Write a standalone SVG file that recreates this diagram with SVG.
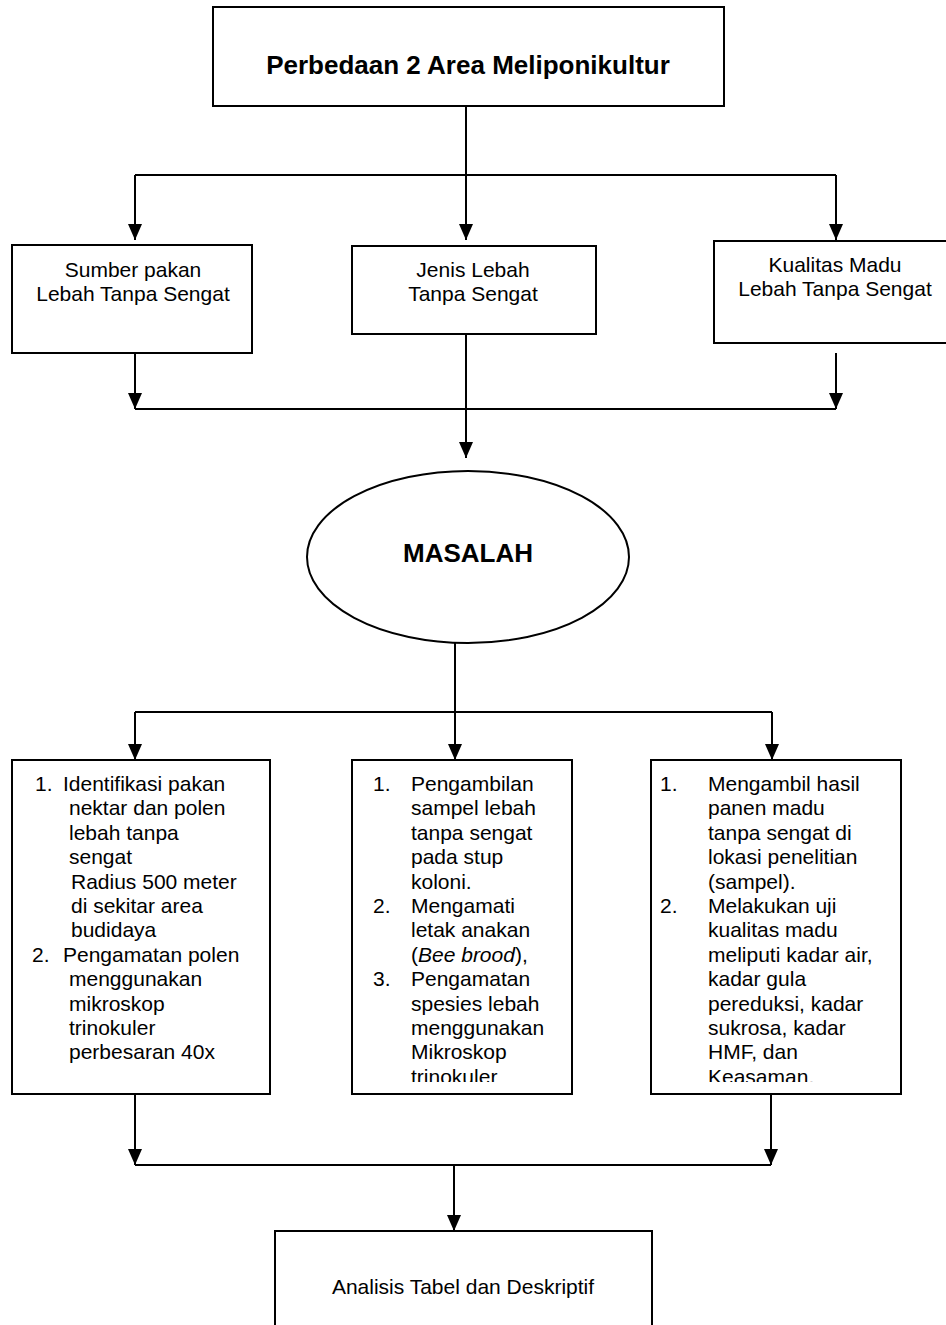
<svg xmlns="http://www.w3.org/2000/svg" width="946" height="1325" viewBox="0 0 946 1325">
<style>
.box{fill:#fff;stroke:#000;stroke-width:2}
.ln{fill:none;stroke:#000;stroke-width:2}
.t{font-family:"Liberation Sans",Arial,sans-serif;font-size:21px;fill:#000}
.c{text-anchor:middle}
.b{font-weight:bold;font-size:26px}
</style>
<defs>
<marker id="ah" markerUnits="userSpaceOnUse" markerWidth="16" markerHeight="14" refX="16" refY="7" orient="auto">
<path d="M0,0 L16,7 L0,14 z" fill="#000"/>
</marker>
<clipPath id="clipM"><rect x="352" y="760" width="220" height="322"/></clipPath>
<clipPath id="clipR"><rect x="651" y="760" width="250" height="322"/></clipPath>
</defs>

<g id="connectors">
<line class="ln" x1="466" y1="106" x2="466" y2="240" marker-end="url(#ah)"/>
<line class="ln" x1="135" y1="175" x2="836" y2="175"/>
<line class="ln" x1="135" y1="175" x2="135" y2="240" marker-end="url(#ah)"/>
<line class="ln" x1="836" y1="175" x2="836" y2="240" marker-end="url(#ah)"/>
<line class="ln" x1="135" y1="353" x2="135" y2="409" marker-end="url(#ah)"/>
<line class="ln" x1="836" y1="353" x2="836" y2="409" marker-end="url(#ah)"/>
<line class="ln" x1="135" y1="409" x2="836" y2="409"/>
<line class="ln" x1="466" y1="334" x2="466" y2="458" marker-end="url(#ah)"/>
<line class="ln" x1="455" y1="643" x2="455" y2="760" marker-end="url(#ah)"/>
<line class="ln" x1="135" y1="712" x2="772" y2="712"/>
<line class="ln" x1="135" y1="712" x2="135" y2="760" marker-end="url(#ah)"/>
<line class="ln" x1="772" y1="712" x2="772" y2="760" marker-end="url(#ah)"/>
<line class="ln" x1="135" y1="1094" x2="135" y2="1165" marker-end="url(#ah)"/>
<line class="ln" x1="771" y1="1094" x2="771" y2="1165" marker-end="url(#ah)"/>
<line class="ln" x1="135" y1="1165" x2="771" y2="1165"/>
<line class="ln" x1="454" y1="1165" x2="454" y2="1231" marker-end="url(#ah)"/>
</g>

<g id="title">
<rect class="box" x="213" y="7" width="511" height="99"/>
<text class="t c b" x="468" y="74">Perbedaan 2 Area Meliponikultur</text>
</g>

<g id="sumber">
<rect class="box" x="12" y="245" width="240" height="108"/>
<text class="t c" x="133" y="277">Sumber pakan</text>
<text class="t c" x="133" y="301">Lebah Tanpa Sengat</text>
</g>

<g id="jenis">
<rect class="box" x="352" y="246" width="244" height="88"/>
<text class="t c" x="473" y="277">Jenis Lebah</text>
<text class="t c" x="473" y="301">Tanpa Sengat</text>
</g>

<g id="kualitas">
<rect class="box" x="714" y="241" width="240" height="102"/>
<text class="t c" x="835" y="272">Kualitas Madu</text>
<text class="t c" x="835" y="296">Lebah Tanpa Sengat</text>
</g>

<g id="masalah">
<ellipse cx="468" cy="557" rx="161" ry="86" fill="#fff" stroke="#000" stroke-width="2"/>
<text class="t c b" x="468" y="562">MASALAH</text>
</g>

<g id="step1">
<rect class="box" x="12" y="760" width="258" height="334"/>
<text class="t">
<tspan x="35" y="791">1.</tspan><tspan x="63" y="791">Identifikasi pakan</tspan>
<tspan x="69" y="815.4">nektar dan polen</tspan>
<tspan x="69" y="839.8">lebah tanpa</tspan>
<tspan x="69" y="864.2">sengat</tspan>
<tspan x="71" y="888.6">Radius 500 meter</tspan>
<tspan x="71" y="913">di sekitar area</tspan>
<tspan x="71" y="937.4">budidaya</tspan>
<tspan x="32" y="961.8">2.</tspan><tspan x="63" y="961.8">Pengamatan polen</tspan>
<tspan x="69" y="986.2">menggunakan</tspan>
<tspan x="69" y="1010.6">mikroskop</tspan>
<tspan x="69" y="1035">trinokuler</tspan>
<tspan x="69" y="1059.4">perbesaran 40x</tspan>
</text>
</g>

<g id="step2">
<rect class="box" x="352" y="760" width="220" height="334"/>
<text class="t" clip-path="url(#clipM)">
<tspan x="373" y="791">1.</tspan><tspan x="411" y="791">Pengambilan</tspan>
<tspan x="411" y="815.4">sampel lebah</tspan>
<tspan x="411" y="839.8">tanpa sengat</tspan>
<tspan x="411" y="864.2">pada stup</tspan>
<tspan x="411" y="888.6">koloni.</tspan>
<tspan x="373" y="913">2.</tspan><tspan x="411" y="913">Mengamati</tspan>
<tspan x="411" y="937.4">letak anakan</tspan>
<tspan x="411" y="961.8">(<tspan font-style="italic">Bee brood</tspan>),</tspan>
<tspan x="373" y="986.2">3.</tspan><tspan x="411" y="986.2">Pengamatan</tspan>
<tspan x="411" y="1010.6">spesies lebah</tspan>
<tspan x="411" y="1035">menggunakan</tspan>
<tspan x="411" y="1059.4">Mikroskop</tspan>
<tspan x="411" y="1083.8">trinokuler</tspan>
</text>
</g>

<g id="step3">
<rect class="box" x="651" y="760" width="250" height="334"/>
<text class="t" clip-path="url(#clipR)">
<tspan x="660" y="791">1.</tspan><tspan x="708" y="791">Mengambil hasil</tspan>
<tspan x="708" y="815.4">panen madu</tspan>
<tspan x="708" y="839.8">tanpa sengat di</tspan>
<tspan x="708" y="864.2">lokasi penelitian</tspan>
<tspan x="708" y="888.6">(sampel).</tspan>
<tspan x="660" y="913">2.</tspan><tspan x="708" y="913">Melakukan uji</tspan>
<tspan x="708" y="937.4">kualitas madu</tspan>
<tspan x="708" y="961.8">meliputi kadar air,</tspan>
<tspan x="708" y="986.2">kadar gula</tspan>
<tspan x="708" y="1010.6">pereduksi, kadar</tspan>
<tspan x="708" y="1035">sukrosa, kadar</tspan>
<tspan x="708" y="1059.4">HMF, dan</tspan>
<tspan x="708" y="1083.8">Keasaman.</tspan>
</text>
</g>

<g id="analisis">
<rect class="box" x="275" y="1231" width="377" height="110"/>
<text class="t c" x="463" y="1294">Analisis Tabel dan Deskriptif</text>
</g>
</svg>
